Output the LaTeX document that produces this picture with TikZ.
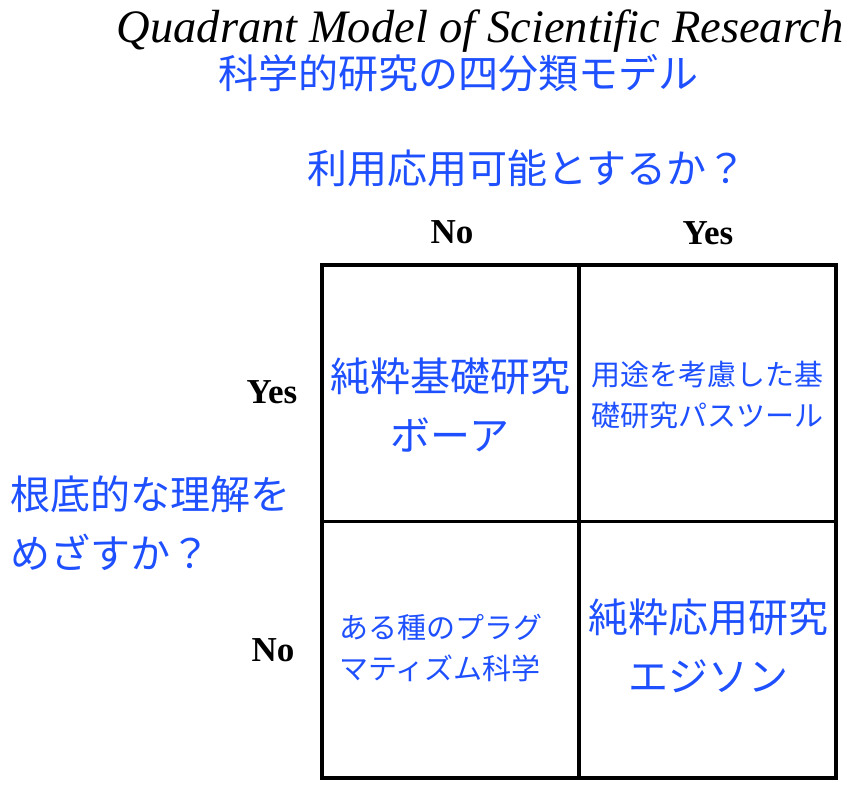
\documentclass[tikz,border=0pt]{standalone}
\usepackage{fontspec}
\setmainfont{Liberation Serif}
\newfontfamily\jpfont{Noto Sans CJK JP}
\usetikzlibrary{positioning}
\definecolor{jblue}{RGB}{30,80,255}
\begin{document}
\begin{tikzpicture}[x=1pt,y=-1pt,
  cell/.style={draw, rectangle, line width=3.5pt, outer sep=0pt, minimum width=257pt, minimum height=256.5pt},
  jbig/.style={text=jblue, font=\jpfont\fontsize{40}{59}\selectfont, align=center, inner sep=0pt},
  jsmall/.style={text=jblue, font=\jpfont\fontsize{29}{41}\selectfont, align=left, inner sep=0pt, anchor=west},
  yesno/.style={font=\bfseries\fontsize{35}{35}\selectfont, inner sep=0pt}]
\useasboundingbox (0,0) rectangle (856,794);
% headings
\node[font=\itshape\fontsize{46.5}{46.5}\selectfont, inner sep=0pt] (title) at (480,31) {Quadrant Model of Scientific Research};
\node[jbig] (jtitle) at (458,73) {科学的研究の四分類モデル};
\node[jbig] (useq) at (527,168) {利用応用可能とするか？};
\node[jbig, align=left, anchor=west] (fundq) at (10,523) {根底的な理解を\\めざすか？};
% yes / no
\node[yesno] (topno) at (452,232) {No};
\node[yesno] (topyes) at (708,233) {Yes};
\node[yesno] (leftyes) at (272,392) {Yes};
\node[yesno] (leftno) at (273,650) {No};
% the four quadrants
\node[cell] (tl) at (450.5,393.25) {};
\node[cell, right=0pt of tl] (tr) {};
\node[cell, below=0pt of tl] (bl) {};
\node[cell, right=0pt of bl] (br) {};
\node[jbig] (bohr) at (450,405) {純粋基礎研究\\ボーア};
\node[jsmall] (pasteur) at (591,395) {用途を考慮した基\\礎研究パスツール};
\node[jsmall] (pragma) at (339,648) {ある種のプラグ\\マティズム科学};
\node[jbig] (edison) at (708,646) {純粋応用研究\\エジソン};
\end{tikzpicture}
\end{document}
